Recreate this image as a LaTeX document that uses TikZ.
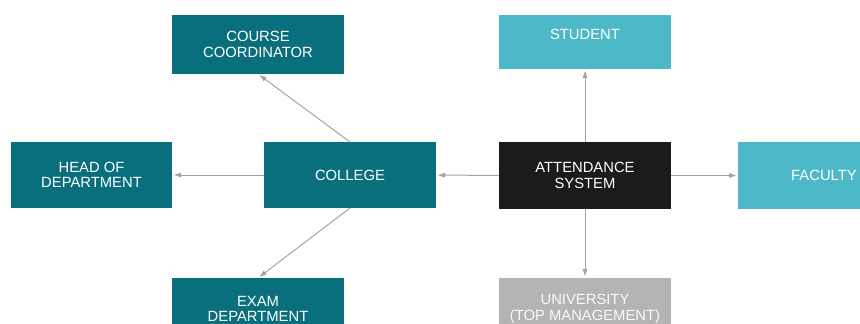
\documentclass[tikz,border=0pt]{standalone}
\usepackage{fontspec}
\usepackage{tikz}
\usetikzlibrary{arrows.meta}
\newfontfamily\boxfont{Liberation Sans}
\definecolor{darkteal}{HTML}{0A6F7C}
\definecolor{lightteal}{HTML}{4DB8C7}
\definecolor{boxblack}{HTML}{1B1B1B}
\definecolor{boxgray}{HTML}{B4B4B4}
\definecolor{linegray}{HTML}{A3A3A3}

\begin{document}
\begin{tikzpicture}[x=1pt, y=-1pt,
    box/.style={minimum width=172pt, minimum height=66pt,
                inner sep=0pt, outer sep=0pt, align=center,
                text=white, font=\boxfont\fontsize{14.8}{15.5}\selectfont},
    conn/.style={draw=linegray, line width=1pt, shorten >=2pt,
                 -{Triangle[length=7pt, width=4.5pt]}}]
\useasboundingbox (0,0) rectangle (860,324);
\clip (0,0) rectangle (860,324);

\node[box, fill=darkteal, minimum height=59pt] (course) at (258,44.5) {COURSE\\COORDINATOR};
\node[box, fill=lightteal, minimum height=54pt] (student) at (585,42) {STUDENT\\\phantom{X}};
\node[box, fill=darkteal, minimum width=161pt] (hod) at (91.5,175) {HEAD OF\\DEPARTMENT};
\node[box, fill=darkteal] (college) at (350,175) {COLLEGE};
\node[box, fill=boxblack, minimum height=67pt] (attend) at (585,175.5) {ATTENDANCE\\SYSTEM};
\node[box, fill=lightteal, minimum height=67pt] (faculty) at (824,175.5) {FACULTY};
\node[box, fill=darkteal, minimum height=62pt] (exam) at (258,309) {EXAM\\DEPARTMENT};
\node[box, fill=boxgray, minimum height=62pt, text=white!92!boxgray] (univ) at (585,309) {UNIVERSITY\\(TOP MANAGEMENT)};

\draw[conn] (college.north) -- (course.south);
\draw[conn] (college) -- (hod);
\draw[conn] (college.south) -- (exam.north);
\draw[conn] (attend) -- (college);
\draw[conn] (attend) -- (student);
\draw[conn] (attend) -- (faculty);
\draw[conn] (attend) -- (univ);
\end{tikzpicture}
\end{document}
